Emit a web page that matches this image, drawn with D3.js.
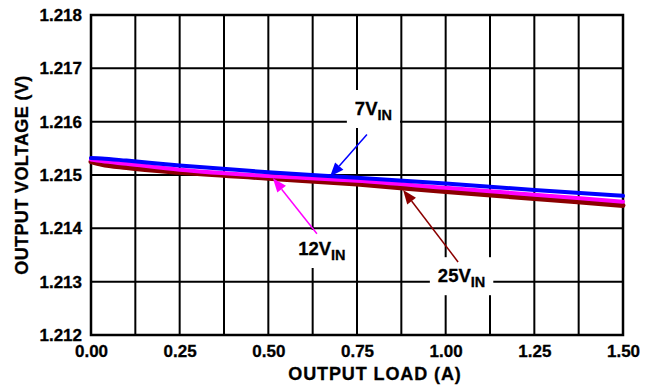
<!DOCTYPE html>
<html><head><meta charset="utf-8">
<script src="https://cdn.jsdelivr.net/npm/d3@7"></script>
<style>body{margin:0;background:#fff}svg{display:block}text{font-family:"Liberation Sans",Arial,sans-serif;font-weight:bold}</style>
</head><body><svg id="c" width="649" height="387"></svg>
<script>
const loadX = [0, 0.03, 0.1, 0.25, 0.5, 0.75, 1.0, 1.25, 1.5];
const v7  = [1.21532, 1.21531, 1.21527, 1.21518, 1.21505, 1.21495, 1.21484, 1.21472, 1.21461];
const v12 = [1.21529, 1.21526, 1.21521, 1.21510, 1.21498, 1.21489, 1.21476, 1.21463, 1.21450];
const v25 = [1.21525, 1.21520, 1.21514, 1.21505, 1.21494, 1.21483, 1.21469, 1.21456, 1.21443];
const xTicks = [0, 0.25, 0.5, 0.75, 1.0, 1.25, 1.5];
const xGrid = d3.range(0, 13).map(i => i * 0.125);
const yTicks = [1.212, 1.213, 1.214, 1.215, 1.216, 1.217, 1.218];
const seriesNames = ["25", "12", "7"];
const seriesColors = ["#8b0000", "#ff00ff", "#0000ff"];
// annotations: label anchor (data coords), arrow tail, arrow tip
const labelX = [0.978, 0.584, 0.744];
const labelY = [1.21299, 1.21350, 1.216125];
const tailX = [1.035, 0.637, 0.778];
const tailY = [1.21337, 1.21390, 1.21576];
const tipX = [0.880, 0.513, 0.674];
const tipY = [1.21472, 1.21494, 1.21497];

const svg = d3.select("#c");
const L = 91, R = 623, T = 15, B = 335;
const x = d3.scaleLinear().domain([0, 1.5]).range([L, R]);
const y = d3.scaleLinear().domain([1.212, 1.218]).range([B, T]);

// grid
svg.append("g").selectAll("line").data(xGrid).join("line")
  .attr("x1", d => x(d)).attr("x2", d => x(d)).attr("y1", T).attr("y2", B)
  .attr("stroke", "#000").attr("stroke-width", 2);
svg.append("g").selectAll("line").data(yTicks).join("line")
  .attr("x1", L).attr("x2", R).attr("y1", d => y(d)).attr("y2", d => y(d))
  .attr("stroke", "#000").attr("stroke-width", 2);
svg.append("rect").attr("x", L).attr("y", T).attr("width", R - L).attr("height", B - T)
  .attr("fill", "none").attr("stroke", "#000").attr("stroke-width", 2.5);

// axes labels via d3 axes
const xAxis = svg.append("g").attr("transform", `translate(0,${B})`)
  .call(d3.axisBottom(x).tickValues(xTicks).tickFormat(d3.format(".2f")).tickSize(0).tickPadding(10));
xAxis.select(".domain").remove();
xAxis.selectAll("text").attr("font-size", 17).attr("fill", "#000").attr("stroke", "#000").attr("stroke-width", 0.3)
  .attr("font-family", "Liberation Sans, Arial").attr("font-weight", "bold");
const yAxis = svg.append("g").attr("transform", `translate(${L},0)`)
  .call(d3.axisLeft(y).tickValues(yTicks).tickFormat(d3.format(".3f")).tickSize(0).tickPadding(9));
yAxis.select(".domain").remove();
yAxis.selectAll("text").attr("font-size", 17).attr("fill", "#000").attr("stroke", "#000").attr("stroke-width", 0.3)
  .attr("font-family", "Liberation Sans, Arial").attr("font-weight", "bold");

svg.append("text").attr("x", 375).attr("y", 380).attr("text-anchor", "middle")
  .attr("font-size", 18).attr("letter-spacing", 0.9).attr("stroke", "#000").attr("stroke-width", 0.3).text("OUTPUT LOAD (A)");
svg.append("text").attr("transform", `translate(28,${(T + B) / 2}) rotate(-90)`).attr("text-anchor", "middle")
  .attr("font-size", 18).attr("letter-spacing", 0.4).attr("stroke", "#000").attr("stroke-width", 0.3).text("OUTPUT VOLTAGE (V)");

// lines
const data = [v25, v12, v7];
const lineGen = d3.line().x((d, i) => x(loadX[i])).y(d => y(d)).curve(d3.curveMonotoneX);
const widths = [5, 4, 4];
data.forEach((s, k) => {
  svg.append("path").attr("d", lineGen(s)).attr("fill", "none")
    .attr("stroke", seriesColors[k]).attr("stroke-width", widths[k]).attr("stroke-linecap", "round");
});

// labels with white boxes
seriesNames.forEach((n, k) => {
  const g = svg.append("g");
  const t = g.append("text").attr("x", x(labelX[k])).attr("y", y(labelY[k])).attr("font-size", 18.5)
    .attr("fill", "#000").attr("stroke", "#000").attr("stroke-width", 0.3);
  t.append("tspan").text(n + "V");
  t.append("tspan").attr("font-size", 14.5).attr("dy", 5).text("IN");
  const bb = t.node().getBBox();
  g.insert("rect", "text").attr("x", bb.x - 8).attr("y", bb.y - 8).attr("width", bb.width + 16).attr("height", bb.height + 13).attr("fill", "#fff");
});

// arrows
seriesNames.forEach((n, k) => {
  const x1 = x(tailX[k]), y1 = y(tailY[k]), x2 = x(tipX[k]), y2 = y(tipY[k]);
  const ang = Math.atan2(y2 - y1, x2 - x1);
  const hl = 14, hw = 5.5;
  const bx = x2 - hl * Math.cos(ang), by = y2 - hl * Math.sin(ang);
  svg.append("line").attr("x1", x1).attr("y1", y1).attr("x2", bx).attr("y2", by)
    .attr("stroke", seriesColors[k]).attr("stroke-width", 1.5);
  const px = -Math.sin(ang) * hw, py = Math.cos(ang) * hw;
  svg.append("path").attr("d", `M${x2},${y2}L${bx + px},${by + py}L${bx - px},${by - py}Z`).attr("fill", seriesColors[k]);
});
</script></body></html>
